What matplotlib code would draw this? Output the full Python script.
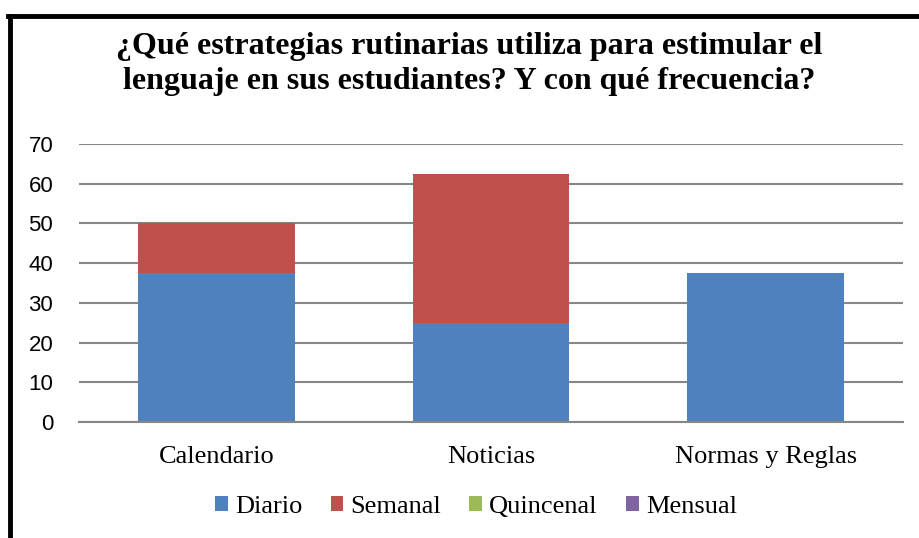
import matplotlib
matplotlib.use("Agg")
import matplotlib.pyplot as plt
from matplotlib.lines import Line2D
import numpy as np

categories = ["Calendario", "Noticias", "Normas y Reglas"]
series_names = ["Diario", "Semanal", "Quincenal", "Mensual"]
diario = [37.5, 25, 37.5]
semanal = [12.5, 37.5, 0]
quincenal = [0, 0, 0]
mensual = [0, 0, 0]
yticks = [0, 10, 20, 30, 40, 50, 60, 70]
colors = ["#4F81BD", "#C0504D", "#9BBB59", "#8064A2"]

W, H = 920, 538
fig = plt.figure(figsize=(W / 100, H / 100), dpi=100)
ax = fig.add_axes([79 / W, 1 - 422 / H, (903 - 79) / W, (422 - 144) / H])

x = np.arange(len(categories))
bottom = np.zeros(len(categories))
for name, vals, c in zip(series_names, [diario, semanal, quincenal, mensual], colors):
    ax.bar(x, vals, width=0.57, bottom=bottom, color=c, label=name, zorder=3)
    bottom += np.array(vals)

ax.set_xlim(-0.5, len(categories) - 0.5)
ax.set_ylim(0, 70)
ax.set_yticks(yticks)
ax.set_yticklabels([str(t) for t in yticks], family="Liberation Sans", fontsize=16)
ax.set_xticks(x)
ax.set_xticklabels(categories, family="Liberation Serif", fontsize=19)
ax.tick_params(axis="both", length=0)
ax.tick_params(axis="y", pad=18.5)
ax.tick_params(axis="x", pad=17)
ax.yaxis.grid(True, color="#868686", linewidth=1.5, zorder=0)
for s in ["top", "right", "left"]:
    ax.spines[s].set_visible(False)
ax.spines["bottom"].set_color("#868686")
ax.spines["bottom"].set_linewidth(1.5)
ax.spines["bottom"].set_zorder(4)

fig.text(469 / W, 1 - 64 / H,
         "¿Qué estrategias rutinarias utiliza para estimular el\nlenguaje en sus estudiantes? Y con qué frecuencia?",
         ha="center", va="center", family="Liberation Serif", fontweight="bold",
         fontsize=23, linespacing=1.25)

leg = fig.legend(loc="center", bbox_to_anchor=(476 / W, 1 - 507 / H), ncol=4,
                 frameon=False, prop={"family": "Liberation Serif", "size": 19},
                 handlelength=0.49, handleheight=0.49, handletextpad=0.27,
                 columnspacing=1.06)

# border
fig.add_artist(Line2D([8 / W, 1.0], [1 - 16 / H, 1 - 16 / H], color="black", lw=3.5,
                      transform=fig.transFigure))
fig.add_artist(Line2D([10 / W, 10 / W], [0, 1 - 16 / H], color="black", lw=3.5,
                      transform=fig.transFigure))

fig.savefig("out.png", dpi=100)
